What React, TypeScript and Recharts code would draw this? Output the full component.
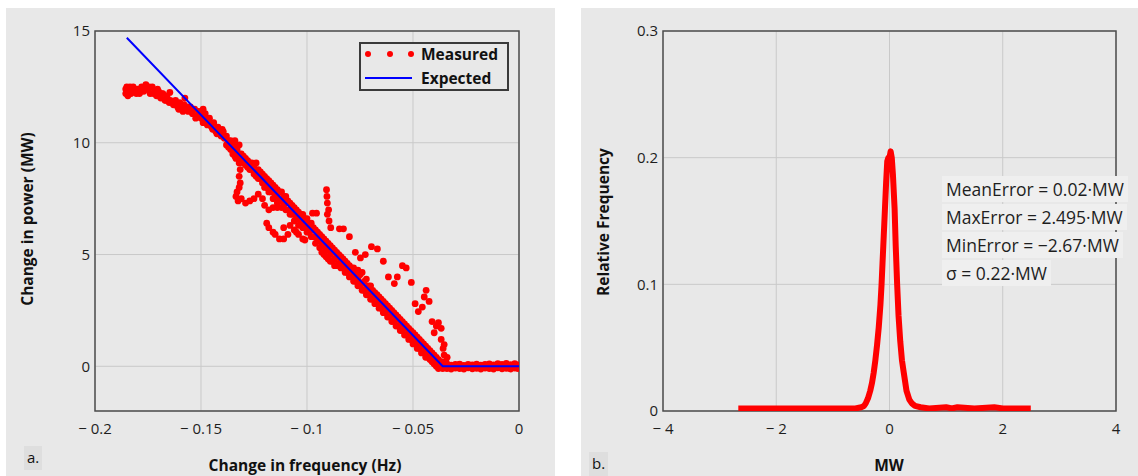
import {
  CartesianGrid,
  Line,
  LineChart,
  ReferenceArea,
  Scatter,
  ScatterChart,
  XAxis,
  YAxis,
} from "recharts";

// panel a: frequency response
const hzTicks = [-0.2, -0.15, -0.1, -0.05, 0];
const mwTicks = [0, 5, 10, 15];

// [Hz, MW]
const measuredUpper: [number, number][] = [
  [-0.1855, 12.4], [-0.1855, 12.2], [-0.185, 12.5], [-0.184, 12.3], [-0.183, 12.2],
  [-0.182, 12.5], [-0.181, 12.3], [-0.18, 12.4], [-0.179, 12.2], [-0.178, 12.5],
  [-0.177, 12.3], [-0.176, 12.6], [-0.175, 12.4], [-0.174, 12.2], [-0.173, 12.5],
  [-0.172, 12.3], [-0.171, 12.1], [-0.17, 12.3], [-0.169, 12.0], [-0.168, 12.2],
  [-0.167, 11.9], [-0.166, 12.1], [-0.165, 11.8], [-0.1647, 12.25], [-0.163, 11.7],
  [-0.162, 11.9], [-0.161, 11.6], [-0.16, 11.8], [-0.159, 11.5], [-0.158, 11.7],
  [-0.1576, 12.0], [-0.156, 11.4], [-0.155, 11.6], [-0.154, 11.3], [-0.153, 11.5],
  [-0.152, 11.2], [-0.151, 11.4], [-0.15, 11.1], [-0.149, 11.5], [-0.149, 10.9],
  [-0.148, 11.3], [-0.147, 10.8], [-0.146, 11.1], [-0.145, 10.7], [-0.144, 10.9],
  [-0.143, 10.5], [-0.142, 10.7], [-0.141, 10.4], [-0.14, 10.6], [-0.139, 10.2],
  [-0.1845, 12.1], [-0.1835, 12.5], [-0.1825, 12.3], [-0.1805, 12.2], [-0.1785, 12.3],
  [-0.1765, 12.4], [-0.1745, 12.5], [-0.1725, 12.2], [-0.1705, 12.4], [-0.1685, 12.2],
  [-0.1665, 11.9], [-0.1645, 11.9], [-0.1625, 11.8], [-0.1605, 11.5], [-0.1585, 11.4],
  [-0.1565, 11.6], [-0.1545, 11.4], [-0.1525, 11.1], [-0.1505, 11.3], [-0.1485, 11.1],
  [-0.1465, 10.9], [-0.1445, 10.6], [-0.1425, 10.4], [-0.1405, 10.3], [-0.1395, 10.5],
];

const measuredBand: [number, number][] = [
  [-0.138, 10.3], [-0.138, 9.9], [-0.136, 10.1], [-0.136, 9.7],
  [-0.134, 10.1], [-0.134, 9.7], [-0.134, 9.4], [-0.132, 9.9], [-0.132, 9.5], [-0.132, 9.2],
  [-0.13, 9.4], [-0.13, 9.1], [-0.128, 9.2], [-0.128, 8.9], [-0.126, 9.1], [-0.126, 8.8],
  [-0.124, 9.1], [-0.124, 8.7], [-0.124, 8.5], [-0.122, 8.7], [-0.122, 8.4],
  [-0.12, 8.5], [-0.12, 8.2], [-0.12, 8.0], [-0.118, 8.3], [-0.118, 8.0], [-0.118, 7.8],
  [-0.116, 8.1], [-0.116, 7.8], [-0.116, 7.5], [-0.114, 7.9], [-0.114, 7.6], [-0.114, 7.3],
  [-0.112, 7.8], [-0.112, 7.4], [-0.112, 7.1], [-0.11, 7.6], [-0.11, 7.3], [-0.11, 7.0],
  [-0.108, 7.3], [-0.108, 7.0], [-0.108, 6.8], [-0.106, 7.1], [-0.106, 6.8], [-0.106, 6.5],
  [-0.104, 6.9], [-0.104, 6.6], [-0.104, 6.3], [-0.102, 6.8], [-0.102, 6.5], [-0.102, 6.2],
  [-0.1, 6.6], [-0.1, 6.3], [-0.1, 6.0], [-0.098, 6.4], [-0.098, 6.1], [-0.098, 5.8],
  [-0.096, 6.1], [-0.096, 5.8], [-0.096, 5.5], [-0.094, 5.9], [-0.094, 5.6], [-0.094, 5.3],
  [-0.092, 5.7], [-0.092, 5.4], [-0.092, 5.0], [-0.09, 5.5], [-0.09, 5.2], [-0.09, 4.8],
  [-0.088, 5.3], [-0.088, 5.1], [-0.088, 4.7], [-0.086, 5.1], [-0.086, 4.9], [-0.086, 4.5],
  [-0.084, 4.9], [-0.084, 4.7], [-0.084, 4.4], [-0.082, 4.7], [-0.082, 4.5], [-0.082, 4.2],
  [-0.08, 4.5], [-0.08, 4.3], [-0.08, 4.0], [-0.078, 4.4], [-0.078, 4.1], [-0.078, 3.8],
  [-0.076, 4.3], [-0.076, 3.9], [-0.076, 3.6], [-0.074, 4.2], [-0.074, 3.7], [-0.074, 3.4],
  [-0.072, 3.9], [-0.072, 3.5], [-0.072, 3.2], [-0.07, 3.6], [-0.07, 3.3], [-0.07, 3.0],
  [-0.068, 3.3], [-0.068, 3.1], [-0.068, 2.8], [-0.066, 3.1], [-0.066, 2.9], [-0.066, 2.6],
  [-0.064, 2.9], [-0.064, 2.7], [-0.064, 2.4], [-0.062, 2.7], [-0.062, 2.5], [-0.062, 2.2],
  [-0.06, 2.5], [-0.06, 2.3], [-0.06, 2.0], [-0.058, 2.3], [-0.058, 2.1], [-0.058, 1.8],
  [-0.056, 2.1], [-0.056, 1.9], [-0.056, 1.6], [-0.054, 1.9], [-0.054, 1.7], [-0.054, 1.4],
  [-0.052, 1.7], [-0.052, 1.5], [-0.052, 1.2], [-0.05, 1.5], [-0.05, 1.3], [-0.05, 1.0],
  [-0.048, 1.3], [-0.048, 1.1], [-0.048, 0.8], [-0.046, 1.1], [-0.046, 0.9], [-0.046, 0.6],
  [-0.044, 0.9], [-0.044, 0.7], [-0.044, 0.4], [-0.042, 0.7], [-0.042, 0.5], [-0.042, 0.3],
  [-0.04, 0.5], [-0.04, 0.3], [-0.04, 0.1], [-0.038, 0.3], [-0.038, 0.1], [-0.038, -0.1],
  [-0.036, 0.2], [-0.036, 0.0], [-0.036, -0.1],
  [-0.137, 10.1], [-0.137, 9.8], [-0.135, 9.9], [-0.135, 9.5], [-0.133, 9.7], [-0.133, 9.4],
  [-0.131, 9.5], [-0.131, 9.2], [-0.129, 9.3], [-0.129, 9.0], [-0.127, 9.1], [-0.127, 8.8],
  [-0.125, 9.0], [-0.125, 8.6], [-0.123, 8.8], [-0.123, 8.4], [-0.121, 8.6], [-0.121, 8.2],
  [-0.119, 8.4], [-0.119, 8.0], [-0.117, 8.2], [-0.117, 7.8], [-0.115, 8.0], [-0.115, 7.6],
  [-0.113, 7.8], [-0.113, 7.4], [-0.111, 7.6], [-0.111, 7.2], [-0.109, 7.4], [-0.109, 7.0],
  [-0.107, 7.2], [-0.107, 6.8], [-0.105, 7.0], [-0.105, 6.6], [-0.103, 6.8], [-0.103, 6.4],
  [-0.101, 6.6], [-0.101, 6.2], [-0.099, 6.4], [-0.099, 6.0], [-0.097, 6.2], [-0.097, 5.8],
  [-0.095, 6.0], [-0.095, 5.6], [-0.093, 5.8], [-0.093, 5.4], [-0.093, 5.1], [-0.091, 5.6],
  [-0.091, 5.2], [-0.091, 4.9], [-0.089, 5.4], [-0.089, 5.0], [-0.089, 4.7], [-0.087, 5.2],
  [-0.087, 4.8], [-0.087, 4.5], [-0.085, 5.0], [-0.085, 4.6], [-0.083, 4.8], [-0.083, 4.4],
  [-0.081, 4.6], [-0.081, 4.2], [-0.079, 4.4], [-0.079, 4.0], [-0.077, 4.2], [-0.077, 3.8],
  [-0.075, 4.1], [-0.075, 3.6], [-0.073, 3.8], [-0.073, 3.4], [-0.071, 3.6], [-0.071, 3.2],
  [-0.069, 3.4], [-0.069, 3.0], [-0.067, 3.2], [-0.067, 2.8], [-0.065, 3.0], [-0.065, 2.6],
  [-0.063, 2.8], [-0.063, 2.4], [-0.061, 2.6], [-0.061, 2.2], [-0.059, 2.4], [-0.059, 2.0],
  [-0.057, 2.2], [-0.057, 1.8], [-0.055, 2.0], [-0.055, 1.6], [-0.053, 1.8], [-0.053, 1.4],
  [-0.051, 1.6], [-0.051, 1.2], [-0.049, 1.4], [-0.049, 1.0], [-0.047, 1.2], [-0.047, 0.8],
  [-0.045, 1.0], [-0.045, 0.6], [-0.043, 0.8], [-0.043, 0.4], [-0.041, 0.6], [-0.041, 0.2],
  [-0.039, 0.4], [-0.039, 0.0], [-0.037, 0.2], [-0.037, -0.05],
];

const measuredLoop: [number, number][] = [
  [-0.1345, 9.6], [-0.1335, 9.3], [-0.132, 9.1], [-0.1315, 8.8], [-0.132, 8.5],
  [-0.1315, 8.2], [-0.132, 8.0], [-0.133, 7.8], [-0.1335, 7.6], [-0.1325, 7.4],
  [-0.131, 7.5], [-0.129, 7.3], [-0.127, 7.4], [-0.125, 7.5], [-0.123, 7.7],
  [-0.121, 7.5], [-0.12, 7.2], [-0.118, 7.0], [-0.116, 7.1], [-0.114, 7.1],
  [-0.119, 6.4], [-0.118, 6.2], [-0.116, 6.0], [-0.115, 5.9], [-0.113, 5.7],
  [-0.111, 5.7], [-0.109, 5.9], [-0.111, 6.2], [-0.108, 6.3], [-0.106, 6.1],
  [-0.104, 5.9], [-0.102, 5.7], [-0.1025, 6.6], [-0.0955, 6.85], [-0.099, 6.2],
  [-0.0974, 6.85], [-0.105, 6.0], [-0.101, 5.65],
];

const measuredOutliers: [number, number][] = [
  [-0.0908, 7.9], [-0.0906, 7.6], [-0.0904, 7.3], [-0.0898, 7.0], [-0.0904, 6.8],
  [-0.0896, 6.5], [-0.0888, 6.2], [-0.0847, 6.15], [-0.0828, 6.15], [-0.08, 5.8],
  [-0.0772, 5.1], [-0.0748, 4.85], [-0.0725, 5.0], [-0.0696, 5.35], [-0.0668, 5.25],
  [-0.064, 4.7], [-0.0616, 4.0], [-0.0588, 3.7], [-0.0574, 4.0], [-0.055, 4.5],
  [-0.0532, 4.4], [-0.0508, 3.75], [-0.049, 2.8], [-0.0475, 2.45], [-0.0456, 2.65],
  [-0.0447, 3.1], [-0.0438, 3.4], [-0.0424, 2.9], [-0.041, 2.0], [-0.038, 1.95],
  [-0.039, 1.8], [-0.0367, 1.7], [-0.04, 1.5], [-0.0367, 1.2], [-0.0353, 0.97],
  [-0.0358, 0.8], [-0.0353, 0.5], [-0.0339, 0.4], [-0.0344, 0.2],
];

const measuredFlat: [number, number][] = [
  [-0.034, 0.1], [-0.034, -0.1], [-0.032, 0.05], [-0.032, -0.12], [-0.03, 0.08],
  [-0.03, -0.08], [-0.028, 0.1], [-0.028, -0.1], [-0.026, 0.04], [-0.026, -0.12],
  [-0.024, 0.09], [-0.024, -0.07], [-0.022, 0.06], [-0.022, -0.11], [-0.02, 0.1],
  [-0.02, -0.09], [-0.018, 0.05], [-0.018, -0.12], [-0.016, 0.08], [-0.016, -0.08],
  [-0.014, 0.11], [-0.014, -0.1], [-0.012, 0.06], [-0.012, -0.12], [-0.01, 0.12],
  [-0.01, -0.07], [-0.008, 0.08], [-0.008, -0.11], [-0.006, 0.13], [-0.006, -0.09],
  [-0.004, 0.07], [-0.004, -0.12], [-0.002, 0.12], [-0.002, -0.08], [-0.0005, 0.06],
  [-0.0005, -0.1], [-0.033, 0.0], [-0.029, 0.02], [-0.025, -0.02], [-0.021, 0.0],
  [-0.017, 0.03], [-0.013, -0.02], [-0.009, 0.0], [-0.005, 0.02], [-0.001, -0.02],
];

const expectedHz = [-0.185, -0.036, 0];
const expectedMW = [14.7, 0, 0];

// panel b: error distribution
const errTicks = [-4, -2, 0, 2, 4];
const freqTicks = [0, 0.1, 0.2, 0.3];
// [MW, relative frequency]
const errorDensity: [number, number][] = [
  [-2.67, 0.002], [-2.0, 0.002], [-1.0, 0.002], [-0.6, 0.002], [-0.5, 0.003],
  [-0.45, 0.004], [-0.42, 0.006], [-0.38, 0.01], [-0.34, 0.016], [-0.31, 0.022],
  [-0.28, 0.03], [-0.25, 0.04], [-0.22, 0.052], [-0.19, 0.066], [-0.16, 0.084],
  [-0.14, 0.1], [-0.11, 0.13], [-0.08, 0.16], [-0.06, 0.18], [-0.04, 0.197],
  [-0.02, 0.2], [0, 0.2], [0.02, 0.205], [0.04, 0.2], [0.06, 0.187],
  [0.09, 0.16], [0.11, 0.13], [0.135, 0.1], [0.16, 0.075], [0.19, 0.055],
  [0.22, 0.04], [0.253, 0.03], [0.3, 0.016], [0.35, 0.009], [0.395, 0.006],
  [0.45, 0.004], [0.55, 0.003], [0.7, 0.002], [1.0, 0.003], [1.1, 0.002],
  [1.2, 0.003], [1.5, 0.002], [1.85, 0.003], [2.0, 0.002], [2.495, 0.002],
];

const stats = [
  "MeanError = 0.02·MW",
  "MaxError = 2.495·MW",
  "MinError = −2.67·MW",
  "σ = 0.22·MW",
];

const PANEL = "#e8e8e8";
const GRID = "#c9c9c9";
const FRAME = "#4d4d4d";
const FONT = "'Open Sans', 'DejaVu Sans', sans-serif";

const measured = [
  ...measuredUpper,
  ...measuredBand,
  ...measuredLoop,
  ...measuredOutliers,
  ...measuredFlat,
].map(([hz, mw]) => ({ hz, mw }));
const expected = expectedHz.map((hz, i) => ({ hz, mw: expectedMW[i] }));
const density = errorDensity.map(([mw, freq]) => ({ mw, freq }));

function minusFmt(v: number) {
  return v < 0 ? `\u2212 ${Math.abs(v)}` : String(v);
}

const RedDot = (p: any) => <circle cx={p.cx} cy={p.cy} r={3.4} fill="#ff0000" />;
const NoDot = () => <g />;

const tickStyle = { fill: "#1e1e1e", fontSize: 15, fontFamily: FONT };

function Title({ x, y, text, vertical = false }: { x: number; y: number; text: string; vertical?: boolean }) {
  return (
    <div
      style={{
        position: "absolute",
        left: x,
        top: y,
        transform: `translate(-50%, -50%)${vertical ? " rotate(-90deg)" : ""}`,
        whiteSpace: "nowrap",
        fontWeight: 700,
        fontSize: 15.5,
        color: "#111",
      }}
    >
      {text}
    </div>
  );
}

function Tag({ x, y, text }: { x: number; y: number; text: string }) {
  return (
    <div
      style={{
        position: "absolute",
        left: x,
        top: y,
        background: "#dedede",
        padding: "2px 3px 4px 3px",
        fontSize: 15,
        lineHeight: "18px",
        color: "#111",
      }}
    >
      {text}
    </div>
  );
}

function Legend() {
  return (
    <div
      style={{
        position: "absolute",
        left: 359,
        top: 42,
        width: 146,
        height: 45,
        border: "2px solid #3a3a3a",
        background: PANEL,
        fontWeight: 700,
        fontSize: 15.5,
        color: "#111",
      }}
    >
      <svg width={52} height={45} style={{ position: "absolute", left: 2, top: 0 }}>
        {[5, 27, 48].map((cx) => (
          <circle key={cx} cx={cx} cy={10} r={3} fill="#ff0000" />
        ))}
        <line x1={2} x2={49} y1={34} y2={34} stroke="#0000ff" strokeWidth={2} />
      </svg>
      <div style={{ position: "absolute", left: 60, top: 0, lineHeight: "21px" }}>Measured</div>
      <div style={{ position: "absolute", left: 60, top: 24, lineHeight: "21px" }}>Expected</div>
    </div>
  );
}

export default function App() {
  return (
    <div
      style={{
        position: "absolute",
        left: 0,
        top: 0,
        width: 1138,
        height: 476,
        background: "#fff",
        fontFamily: FONT,
        overflow: "hidden",
      }}
    >
      <div style={{ position: "absolute", left: 6, top: 8, width: 549, height: 468, background: PANEL }}>
        <ScatterChart width={549} height={468} margin={{ top: 23, right: 36, bottom: 35, left: 29 }}>
          <CartesianGrid stroke={GRID} />
          <XAxis
            type="number"
            dataKey="hz"
            domain={[-0.2, 0]}
            ticks={hzTicks}
            interval={0}
            allowDataOverflow
            axisLine={false}
            tickLine={false}
            tickSize={10}
            tickMargin={2}
            height={30}
            tickFormatter={minusFmt}
            tick={tickStyle}
          />
          <YAxis
            type="number"
            dataKey="mw"
            domain={[-2, 15]}
            ticks={mwTicks}
            interval={0}
            allowDataOverflow
            axisLine={false}
            tickLine={false}
            tickSize={3}
            tickMargin={2}
            width={60}
            tick={tickStyle}
          />
          <ReferenceArea x1={-0.2} x2={0} y1={-2} y2={15} fill="none" stroke={FRAME} strokeWidth={1.5} />
          <Scatter name="Measured" data={measured} shape={RedDot} isAnimationActive={false} />
          <Scatter
            name="Expected"
            data={expected}
            shape={NoDot}
            line={{ stroke: "#0000ff", strokeWidth: 2 }}
            lineType="joint"
            isAnimationActive={false}
          />
        </ScatterChart>
      </div>
      <Legend />
      <Title x={27} y={219} text="Change in power (MW)" vertical />
      <Title x={305} y={465} text="Change in frequency (Hz)" />
      <Tag x={24} y={446} text="a." />

      <div style={{ position: "absolute", left: 581, top: 8, width: 557, height: 468, background: PANEL }}>
        <LineChart width={557} height={468} data={density} margin={{ top: 23, right: 22, bottom: 35, left: 22 }}>
          <CartesianGrid stroke={GRID} />
          <XAxis
            type="number"
            dataKey="mw"
            domain={[-4, 4]}
            ticks={errTicks}
            interval={0}
            allowDataOverflow
            axisLine={false}
            tickLine={false}
            tickSize={10}
            tickMargin={2}
            height={30}
            tickFormatter={minusFmt}
            tick={tickStyle}
          />
          <YAxis
            type="number"
            domain={[0, 0.3]}
            ticks={freqTicks}
            interval={0}
            allowDataOverflow
            axisLine={false}
            tickLine={false}
            tickSize={3}
            tickMargin={2}
            width={60}
            tick={tickStyle}
          />
          <ReferenceArea x1={-4} x2={4} y1={0} y2={0.3} fill="none" stroke={FRAME} strokeWidth={1.5} />
          <Line
            type="linear"
            dataKey="freq"
            stroke="#ff0000"
            strokeWidth={6}
            strokeLinejoin="round"
            dot={false}
            isAnimationActive={false}
          />
        </LineChart>
      </div>
      <div style={{ position: "absolute", left: 942, top: 176 }}>
        {stats.map((s) => (
          <div
            key={s}
            style={{
              background: "#efefef",
              height: 26,
              lineHeight: "26px",
              marginBottom: 2,
              padding: "0 4px",
              fontSize: 17.5,
              color: "#1e1e1e",
              whiteSpace: "nowrap",
              width: "fit-content",
            }}
          >
            {s}
          </div>
        ))}
      </div>
      <Title x={603} y={222} text="Relative Frequency" vertical />
      <Title x={889} y={465} text="MW" />
      <Tag x={589} y={452} text="b." />
    </div>
  );
}
